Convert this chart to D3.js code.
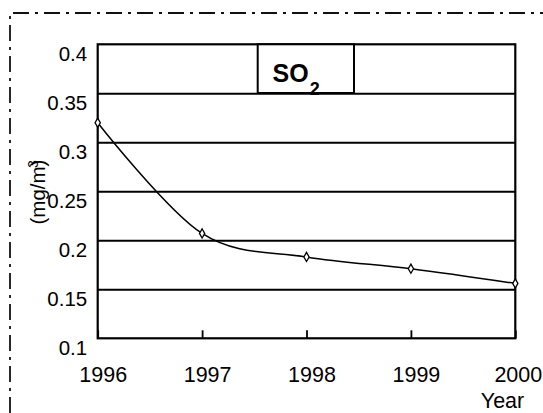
<!DOCTYPE html>
<html>
<head>
<meta charset="utf-8">
<script src="https://cdn.jsdelivr.net/npm/d3@7"></script>
<style>
  html, body { margin: 0; padding: 0; background: #fff; }
  svg { display: block; }
  text { font-family: "Liberation Sans", Arial, sans-serif; fill: #000; }
</style>
</head>
<body>
<script>
// ---- data ----
const years = [1996, 1997, 1998, 1999, 2000];
const so2 = [0.32, 0.207, 0.183, 0.171, 0.156];
const yTicks = [0.1, 0.15, 0.2, 0.25, 0.3, 0.35, 0.4];
const yTickLabels = ["0.1", "0.15", "0.2", "0.25", "0.3", "0.35", "0.4"];
const xTickLabels = ["1996", "1997", "1998", "1999", "2000"];
const titleMain = "SO";
const titleSub = "2";
const xTitle = "Year";
const yTitle = "(mg/m";

// ---- layout ----
const W = 543, H = 413;
const L = 97.7, R = 515.3, T = 44.3, B = 338.3;

const svg = d3.select("body").append("svg").attr("width", W).attr("height", H);

// dash-dot outer border (top and left)
svg.append("path")
  .attr("d", `M10,${H} L10,13 L${W},13`)
  .attr("fill", "none").attr("stroke", "#111").attr("stroke-width", 1.8)
  .attr("stroke-dasharray", "16,6,3,6");

const x = d3.scaleLinear().domain([1996, 2000]).range([L, R]);
const y = d3.scaleLinear().domain([0.1, 0.4]).range([B, T]);

// plot background
svg.append("rect").attr("x", L).attr("y", T).attr("width", R - L).attr("height", B - T).attr("fill", "#fff");

// y axis with gridlines
const yAxis = d3.axisLeft(y).tickValues(yTicks)
  .tickFormat((d, i) => yTickLabels[i])
  .tickSizeInner(-(R - L)).tickSizeOuter(0).tickPadding(10);
const gy = svg.append("g").attr("transform", `translate(${L},0)`).call(yAxis);
gy.select(".domain").remove();
gy.selectAll(".tick line").attr("stroke", "#000").attr("stroke-width", 2)
  .attr("opacity", d => (d === 0.1 || d === 0.4) ? 0 : 1);
gy.selectAll(".tick text").attr("font-size", 20.5).attr("dy", null).attr("y", 15.8).attr("x", -10.5)
  .attr("font-family", "Liberation Sans, Arial, sans-serif");

// x axis with inside ticks
const xAxis = d3.axisBottom(x).tickValues(years)
  .tickFormat((d, i) => xTickLabels[i])
  .tickSizeInner(-8).tickSizeOuter(0);
const gx = svg.append("g").attr("transform", `translate(0,${B})`).call(xAxis);
gx.select(".domain").remove();
gx.selectAll(".tick line").attr("stroke", "#000").attr("stroke-width", 1.8);
gx.selectAll(".tick text").attr("font-size", 21.5).attr("dy", null).attr("y", 43.5)
  .attr("dx", (d, i) => i === years.length - 1 ? 2.5 : 5)
  .attr("font-family", "Liberation Sans, Arial, sans-serif");

// plot frame
svg.append("rect").attr("x", L).attr("y", T).attr("width", R - L).attr("height", B - T)
  .attr("fill", "none").attr("stroke", "#000").attr("stroke-width", 2.2);

// title box
const tb = svg.append("g");
tb.append("rect").attr("x", 257.7).attr("y", T).attr("width", 96.3).attr("height", 48.7)
  .attr("fill", "#fff").attr("stroke", "#000").attr("stroke-width", 2);
const tt = tb.append("text").attr("x", 272.5).attr("y", 81.7).attr("font-weight", "bold").attr("font-size", 25);
tt.append("tspan").text(titleMain);
tt.append("tspan").attr("font-size", 18).attr("dy", 13).attr("dx", 1).text(titleSub);

// line
const line = d3.line().x((d, i) => x(years[i])).y(d => y(d)).curve(d3.curveCatmullRom.alpha(0));
svg.append("path").datum(so2).attr("d", line)
  .attr("fill", "none").attr("stroke", "#000").attr("stroke-width", 1.5);

// markers (hollow diamonds)
const sym = d3.symbol().type(d3.symbolDiamond).size(24);
svg.selectAll(".mk").data(so2).join("path").attr("class", "mk")
  .attr("transform", (d, i) => `translate(${x(years[i])},${y(d)})`)
  .attr("d", sym).attr("fill", "#fff").attr("stroke", "#000").attr("stroke-width", 1.3);

// axis titles
svg.append("text").attr("x", 502.5).attr("y", 408).attr("text-anchor", "middle")
  .attr("font-size", 21.5).text(xTitle);

const yt = svg.append("g").attr("transform", "translate(45,192) rotate(-90)");
yt.append("text").attr("x", 0).attr("y", 0).attr("text-anchor", "middle").attr("font-size", 20.5)
  .text(yTitle + ")");
yt.append("text").attr("x", 24).attr("y", -7).attr("font-size", 14).text("3");
</script>
</body>
</html>
